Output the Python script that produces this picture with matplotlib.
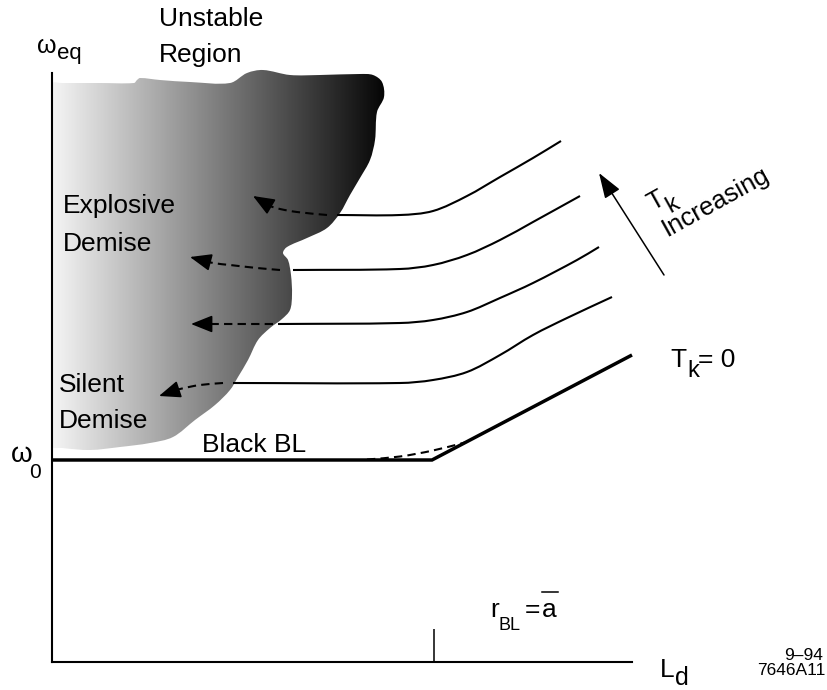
import numpy as np
import matplotlib
matplotlib.use("Agg")
import matplotlib.pyplot as plt
from matplotlib.path import Path
from matplotlib.patches import PathPatch

plt.rcParams['font.family'] = ['Liberation Sans', 'DejaVu Sans']

# ---- schematic coordinates: L_d along x, omega along y (arbitrary units) ----
x_axis_end = 580
y_axis_end = 589
r_bl_tick = 382

# Black boundary layer (T_k = 0): flat at omega_0, then rising
bl_x = [0, 380, 580]
bl_y = [202, 202, 307]
bl_soft_x = [315, 348, 381, 413]
bl_soft_y = [202.5, 205.5, 211.5, 219.5]

# Equilibrium curves for increasing T_k (bottom to top)
curve1_x = [181, 348, 381, 415, 448, 481, 515, 560]
curve1_y = [279, 279, 282, 290, 307, 327, 344, 365]
curve2_x = [226, 348, 381, 415, 448, 481, 525, 547]
curve2_y = [338, 339, 342, 350, 364, 379, 402, 415]
curve3_x = [241, 348, 381, 415, 448, 481, 528]
curve3_y = [392, 393, 397, 407, 422, 440, 466]
curve4_x = [285, 348, 381, 415, 448, 481, 509]
curve4_y = [447, 447, 451, 466, 485, 504, 521]

# Dashed "demise" arrows leaving each curve (tail ... tip)
arrow1_x = [171, 148, 128, 107]
arrow1_y = [279, 277, 273, 266]
arrow2_x = [221, 180, 139]
arrow2_y = [338, 338, 338]
arrow3_x = [228, 205, 178, 161, 138]
arrow3_y = [392, 394, 397, 399, 405]
arrow4_x = [275, 245, 228, 218, 201]
arrow4_y = [447, 450, 453, 456, 466]

# Outline of the unstable region
blob_x = [0, 10, 48, 82, 85, 88, 108, 138, 178, 195, 211, 238, 268, 308, 321,
          330, 332, 325, 323, 318, 308, 298, 288, 275, 255, 235, 231, 236, 239,
          240, 238, 230, 218, 206, 196, 186, 178, 163, 143, 121, 98, 68, 38, 10,
          0, 0]
blob_y = [579, 579, 579, 579, 582, 584, 582, 580, 579, 589, 592, 587, 587, 588,
          587, 580, 565, 550, 522, 502, 484, 467, 449, 434, 424, 415, 409, 402,
          387, 367, 352, 343, 334, 322, 302, 285, 272, 257, 242, 225, 219, 215,
          212, 214, 216, 570]

# T_k increasing arrow (tail, tip)
tk_arrow_tail = (612, 387)
tk_arrow_tip = (547, 489)


def smooth_path(xs, ys, closed=False):
    """Smooth cubic Bezier through the points, tangents scaled by chord length."""
    pts = np.column_stack([xs, ys]).astype(float)
    n = len(pts)
    if closed:
        prev = np.roll(pts, 1, axis=0)
        nxt = np.roll(pts, -1, axis=0)
    else:
        prev = np.vstack([pts[0], pts[:-1]])
        nxt = np.vstack([pts[1:], pts[-1]])
    dprev = np.hypot(*(pts - prev).T)
    dnext = np.hypot(*(nxt - pts).T)
    tang = (nxt - prev) / (dprev + dnext)[:, None]
    verts = [pts[0]]
    codes = [Path.MOVETO]
    nseg = n if closed else n - 1
    for i in range(nseg):
        j = (i + 1) % n
        L = np.hypot(*(pts[j] - pts[i]))
        verts += [pts[i] + tang[i] * L / 3.0, pts[j] - tang[j] * L / 3.0, pts[j]]
        codes += [Path.CURVE4] * 3
    if closed:
        verts.append(pts[0])
        codes.append(Path.CLOSEPOLY)
    return Path(verts, codes)


fig = plt.figure(figsize=(8.27, 6.90), dpi=100)
ax = fig.add_axes([0, 0, 1, 1])
ax.set_xlim(-52, 775)
ax.set_ylim(-28, 662)
ax.set_facecolor('white')

for side in ('top', 'right'):
    ax.spines[side].set_visible(False)
ax.spines['left'].set_position(('data', 0))
ax.spines['bottom'].set_position(('data', 0))
ax.spines['left'].set_bounds(0, y_axis_end)
ax.spines['bottom'].set_bounds(0, x_axis_end)
for side in ('left', 'bottom'):
    ax.spines[side].set_linewidth(1.5)
    ax.spines[side].set_zorder(5)
ax.set_yticks([])
ax.set_xticks([r_bl_tick])
ax.tick_params(axis='x', direction='in', length=23.8, width=1.1,
               labelbottom=False, color='black')

# Unstable region with a horizontal grey gradient
blob = PathPatch(smooth_path(blob_x, blob_y, closed=True),
                 facecolor='none', edgecolor='none')
ax.add_patch(blob)
grad = np.linspace(0.96, 0.02, 512).reshape(1, -1)
img = ax.imshow(grad, cmap='gray', vmin=0, vmax=1, aspect='auto',
                extent=(0, 334, 205, 597), interpolation='bicubic', zorder=1)
img.set_clip_path(blob)

# Black BL line (T_k = 0)
ax.plot(bl_x, bl_y, color='black', lw=2.5, solid_joinstyle='miter',
        solid_capstyle='butt', zorder=3)
ax.add_patch(PathPatch(smooth_path(bl_soft_x, bl_soft_y), fill=False,
                       lw=1.5, linestyle=(0, (4, 2.5)), edgecolor='black',
                       zorder=3))

# Curves for increasing T_k
for cx, cy in [(curve1_x, curve1_y), (curve2_x, curve2_y),
               (curve3_x, curve3_y), (curve4_x, curve4_y)]:
    ax.add_patch(PathPatch(smooth_path(cx, cy), fill=False, lw=1.5,
                           edgecolor='black', capstyle='butt', zorder=3))


def demise_arrow(xs, ys):
    xs = np.asarray(xs, float)
    ys = np.asarray(ys, float)
    tip = np.array([xs[-1], ys[-1]])
    prev = np.array([xs[-2], ys[-2]])
    d = tip - prev
    d /= np.hypot(*d)
    bx = xs.copy()
    by = ys.copy()
    bx[-1], by[-1] = tip - d * 12
    ax.add_patch(PathPatch(smooth_path(bx, by), fill=False, lw=1.5,
                           linestyle=(0, (4, 2.5)), edgecolor='black',
                           capstyle='butt', zorder=4))
    ax.annotate('', xy=tip, xytext=tip - d * 18,
                arrowprops=dict(arrowstyle='-|>,head_length=1.2,head_width=0.48',
                                mutation_scale=11, color='black', lw=1.2,
                                shrinkA=0, shrinkB=0), zorder=4)


for axs, ays in [(arrow1_x, arrow1_y), (arrow2_x, arrow2_y),
                 (arrow3_x, arrow3_y), (arrow4_x, arrow4_y)]:
    demise_arrow(axs, ays)

# T_k increasing arrow
ax.annotate('', xy=tk_arrow_tip, xytext=tk_arrow_tail,
            arrowprops=dict(arrowstyle='-|>,head_length=1.3,head_width=0.45',
                            mutation_scale=12, color='black', lw=1.1,
                            shrinkA=0, shrinkB=0))

# ---- labels ----
fs = 19
txt = dict(ha='left', va='baseline', color='black')
ax.text(107, 636, 'Unstable', fontsize=fs, **txt)
ax.text(107, 600, 'Region', fontsize=fs, **txt)
ax.text(11, 449, 'Explosive', fontsize=fs, **txt)
ax.text(11, 411, 'Demise', fontsize=fs, **txt)
ax.text(7, 270, 'Silent', fontsize=fs, **txt)
ax.text(7, 234, 'Demise', fontsize=fs, **txt)
ax.text(150, 210, 'Black BL', fontsize=fs, **txt)

# omega labels
ax.text(-15, 609, 'ω', fontsize=18, **txt)
ax.text(5, 603, 'eq', fontsize=16, **txt)
ax.text(-41, 200, 'ω', fontsize=20, **txt)
ax.text(-23, 184, '0', fontsize=15, **txt)

# T_k = 0
ax.text(618, 295, 'T', fontsize=fs, **txt)
ax.text(635, 285, 'k', fontsize=17, **txt)
ax.text(646, 295, '= 0', fontsize=fs, **txt)

# Rotated "T_k Increasing"
rot = 29.0
th = np.deg2rad(rot)
along = np.array([np.cos(th), np.sin(th)])
up = np.array([-np.sin(th), np.cos(th)])
anchor = np.array([600.0, 451.0])
rtxt = dict(ha='left', va='baseline', rotation=rot, rotation_mode='anchor',
            color='black')
ax.text(*anchor, 'T', fontsize=fs, **rtxt)
ax.text(*(anchor + 15 * along - 10.5 * up), 'k', fontsize=17, **rtxt)
ax.text(*(anchor + 0.5 * along - 30 * up), 'Increasing', fontsize=18.5, **rtxt)

# r_BL = a-bar
ax.text(438, 45, 'r', fontsize=19, **txt)
ax.text(446, 32, 'BL', fontsize=13, **txt)
ax.text(473, 45, '=', fontsize=fs, **txt)
ax.text(490, 45, 'a', fontsize=19, **txt)
ax.plot([490, 506], [70, 70], color='black', lw=1.1)

# L_d
ax.text(608, -15, 'L', fontsize=19, **txt)
ax.text(623, -23, 'd', fontsize=18, **txt)

# figure id
ax.text(771, 2, '9–94', fontsize=12.5, ha='right', va='baseline')
ax.text(773, -13, '7646A11', fontsize=12.5, ha='right', va='baseline')

fig.savefig('out.png', dpi=100, facecolor='white')
